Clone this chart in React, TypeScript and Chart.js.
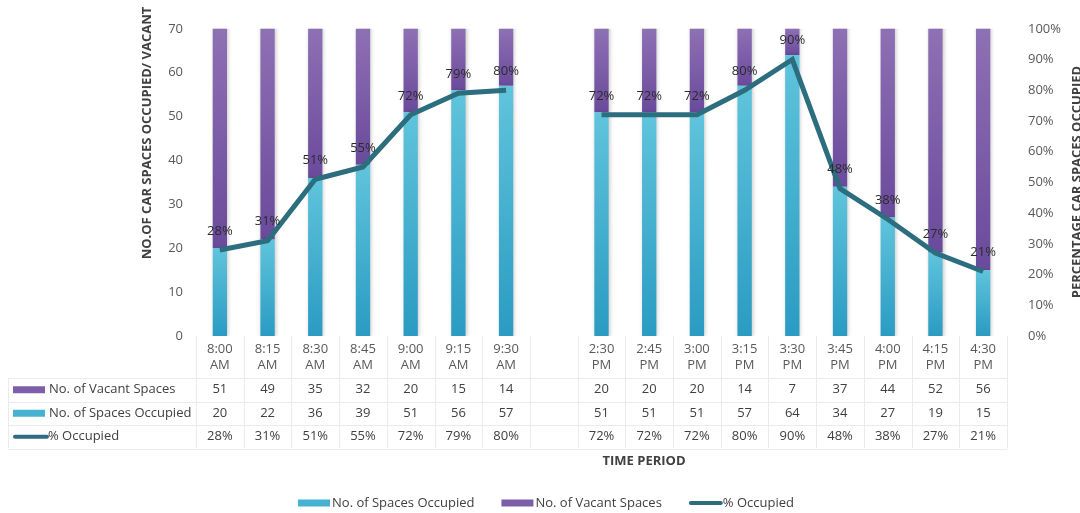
import React, { useEffect, useRef } from "react";
import { Chart, registerables } from "chart.js";

Chart.register(...registerables);

// Survey time slots; the blank slot separates the morning and afternoon sessions.
const timeSlots: string[][] = [
  ["8:00", "AM"], ["8:15", "AM"], ["8:30", "AM"], ["8:45", "AM"],
  ["9:00", "AM"], ["9:15", "AM"], ["9:30", "AM"],
  [""],
  ["2:30", "PM"], ["2:45", "PM"], ["3:00", "PM"], ["3:15", "PM"],
  ["3:30", "PM"], ["3:45", "PM"], ["4:00", "PM"], ["4:15", "PM"], ["4:30", "PM"],
];

const spacesOccupied: (number | null)[] = [20, 22, 36, 39, 51, 56, 57, null, 51, 51, 51, 57, 64, 34, 27, 19, 15];
const vacantSpaces: (number | null)[] = [51, 49, 35, 32, 20, 15, 14, null, 20, 20, 20, 14, 7, 37, 44, 52, 56];
const percentOccupied: (number | null)[] = [28, 31, 51, 55, 72, 79, 80, null, 72, 72, 72, 80, 90, 48, 38, 27, 21];

const countTicks = [0, 10, 20, 30, 40, 50, 60, 70];
const percentTicks = [0, 10, 20, 30, 40, 50, 60, 70, 80, 90, 100];

const FONT = "'Open Sans', 'Noto Sans', sans-serif";
const SIZE = 13;
const TEXT = "#404040";
const AXIS_TEXT = "#595959";
const GRID = "#ebebeb";

const CYAN = { top: "#60c4dc", bottom: "#2a9bc2", flat: "#45b2d2" };
const PURPLE = { top: "#8e70b4", bottom: "#6a4a9b", flat: "#7d5fa9" };
const TEAL = "#2c6d7e";

function barGradient(ctx: any, colors: { top: string; bottom: string; flat: string }, lower: number[], upper: number[]) {
  const chart = ctx.chart;
  const y = chart.scales?.y;
  if (!chart.chartArea || !y || ctx.type !== "data") return colors.flat;
  const i = ctx.dataIndex;
  const top = y.getPixelForValue(Math.min(upper[i], y.max));
  const bottom = y.getPixelForValue(lower[i]);
  if (!isFinite(top) || !isFinite(bottom) || top === bottom) return colors.flat;
  const g = chart.ctx.createLinearGradient(0, top, 0, bottom);
  g.addColorStop(0, colors.top);
  g.addColorStop(1, colors.bottom);
  return g;
}

const occLower = spacesOccupied.map(() => 0);
const occUpper = spacesOccupied.map((v) => v ?? 0);
const vacLower = occUpper;
const vacUpper = spacesOccupied.map((v, i) => (v ?? 0) + (vacantSpaces[i] ?? 0));

// Soft drop shadow under the bar series
const barShadow = {
  id: "barShadow",
  beforeDatasetDraw(chart: any, args: any) {
    if (chart.data.datasets[args.index].type !== "bar") return;
    const c = chart.ctx;
    c.save();
    c.shadowColor = "rgba(0,0,0,0.22)";
    c.shadowBlur = 4;
    c.shadowOffsetX = 1;
    c.shadowOffsetY = 1;
  },
  afterDatasetDraw(chart: any, args: any) {
    if (chart.data.datasets[args.index].type !== "bar") return;
    chart.ctx.restore();
  },
};

// Percentage labels above the line points
const pointLabels = {
  id: "pointLabels",
  afterDatasetsDraw(chart: any) {
    const idx = chart.data.datasets.findIndex((d: any) => d.type === "line");
    const meta = chart.getDatasetMeta(idx);
    const c = chart.ctx;
    c.save();
    c.font = `${SIZE}px ${FONT}`;
    c.fillStyle = "#2b2b2b";
    c.textAlign = "center";
    c.textBaseline = "middle";
    meta.data.forEach((pt: any, i: number) => {
      const v = percentOccupied[i];
      if (v == null) return;
      c.fillText(`${v}%`, pt.x, pt.y - 19);
    });
    c.restore();
  },
};

// Data table under the axis, axis titles and the legend
const tableAndLegend = {
  id: "tableAndLegend",
  afterDraw(chart: any) {
    const c = chart.ctx;
    const area = chart.chartArea;
    const x = chart.scales.x;
    const n = timeSlots.length;
    const half = (x.getPixelForValue(1) - x.getPixelForValue(0)) / 2;
    const headerBottom = area.bottom + 42;
    const rowH = 23.5;
    const tableBottom = headerBottom + rowH * 3;
    const tableLeft = 8;
    const lastEdge = x.getPixelForValue(n - 1) + half;

    c.save();
    c.strokeStyle = GRID;
    c.lineWidth = 1;
    for (let i = 0; i <= n; i++) {
      const ex = Math.round(x.getPixelForValue(i) - half) + 0.5;
      c.beginPath();
      c.moveTo(ex, area.bottom);
      c.lineTo(ex, tableBottom);
      c.stroke();
    }
    for (let r = 0; r <= 3; r++) {
      const ry = Math.round(headerBottom + r * rowH) + 0.5;
      c.beginPath();
      c.moveTo(tableLeft, ry);
      c.lineTo(lastEdge, ry);
      c.stroke();
    }
    c.beginPath();
    c.moveTo(tableLeft + 0.5, headerBottom);
    c.lineTo(tableLeft + 0.5, tableBottom);
    c.stroke();

    const rows = [
      { label: "No. of Vacant Spaces", values: vacantSpaces, fmt: (v: number) => `${v}`, kind: "box", color: PURPLE.flat },
      { label: "No. of Spaces Occupied", values: spacesOccupied, fmt: (v: number) => `${v}`, kind: "box", color: CYAN.flat },
      { label: "% Occupied", values: percentOccupied, fmt: (v: number) => `${v}%`, kind: "line", color: TEAL },
    ];
    c.font = `${SIZE}px ${FONT}`;
    c.textBaseline = "middle";
    rows.forEach((row, r) => {
      const cy = headerBottom + rowH * r + rowH / 2;
      if (row.kind === "box") {
        c.fillStyle = row.color;
        c.fillRect(13, cy - 3.5, 32, 7);
      } else {
        c.strokeStyle = row.color;
        c.lineWidth = 4;
        c.lineCap = "round";
        c.beginPath();
        c.moveTo(15, cy);
        c.lineTo(47, cy);
        c.stroke();
      }
      c.fillStyle = TEXT;
      c.textAlign = "left";
      c.fillText(row.label, row.kind === "box" ? 49 : 48, cy);
      c.textAlign = "center";
      row.values.forEach((v, i) => {
        if (v == null) return;
        c.fillText(row.fmt(v), x.getPixelForValue(i), cy);
      });
    });

    // Axis titles
    c.font = `bold ${SIZE}px ${FONT}`;
    c.fillStyle = TEXT;
    c.textAlign = "center";
    c.textBaseline = "middle";
    c.fillText("TIME PERIOD", 644, tableBottom + 13);

    c.save();
    c.translate(147, 133);
    c.rotate(-Math.PI / 2);
    c.fillText("NO.OF CAR SPACES OCCUPIED/ VACANT", 0, 0);
    c.restore();

    c.save();
    c.translate(1077, 182);
    c.rotate(-Math.PI / 2);
    c.fillText("PERCENTAGE CAR SPACES OCCUPIED", 0, 0);
    c.restore();

    // Legend
    const items = [
      { label: "No. of Spaces Occupied", kind: "box", color: CYAN.flat },
      { label: "No. of Vacant Spaces", kind: "box", color: PURPLE.flat },
      { label: "% Occupied", kind: "line", color: TEAL },
    ];
    c.font = `${SIZE}px ${FONT}`;
    const swatchW = 32;
    const gapAfterSwatch = 2;
    const itemGap = 27;
    const widths = items.map((it) => swatchW + gapAfterSwatch + c.measureText(it.label).width);
    const total = widths.reduce((a, b) => a + b, 0) + itemGap * (items.length - 1);
    let lx = 546 - total / 2;
    const ly = 503;
    items.forEach((it, k) => {
      if (it.kind === "box") {
        c.fillStyle = it.color;
        c.fillRect(lx, ly - 3.5, swatchW, 7);
      } else {
        c.strokeStyle = it.color;
        c.lineWidth = 4;
        c.lineCap = "round";
        c.beginPath();
        c.moveTo(lx + 2, ly);
        c.lineTo(lx + swatchW, ly);
        c.stroke();
      }
      c.fillStyle = TEXT;
      c.textAlign = "left";
      c.textBaseline = "middle";
      c.fillText(it.label, lx + swatchW + gapAfterSwatch, ly);
      lx += widths[k] + itemGap;
    });
    c.restore();
  },
};

export default function App() {
  const canvasRef = useRef<HTMLCanvasElement | null>(null);

  useEffect(() => {
    document.body.style.margin = "0";
    const canvas = canvasRef.current;
    if (!canvas) return;

    const chart = new Chart(canvas, {
      type: "bar",
      data: {
        labels: timeSlots,
        datasets: [
          {
            type: "bar",
            label: "No. of Spaces Occupied",
            data: spacesOccupied,
            backgroundColor: (ctx: any) => barGradient(ctx, CYAN, occLower, occUpper),
            borderWidth: 0,
            barPercentage: 0.3,
            categoryPercentage: 1,
            yAxisID: "y",
            order: 1,
          },
          {
            type: "bar",
            label: "No. of Vacant Spaces",
            data: vacantSpaces,
            backgroundColor: (ctx: any) => barGradient(ctx, PURPLE, vacLower, vacUpper),
            borderWidth: 0,
            barPercentage: 0.3,
            categoryPercentage: 1,
            yAxisID: "y",
            order: 1,
          },
          {
            type: "line",
            label: "% Occupied",
            data: percentOccupied,
            borderColor: TEAL,
            backgroundColor: TEAL,
            borderWidth: 5,
            pointRadius: 0,
            tension: 0,
            spanGaps: false,
            yAxisID: "y1",
            order: 0,
          },
        ],
      } as any,
      plugins: [barShadow, pointLabels, tableAndLegend],
      options: {
        animation: false,
        responsive: false,
        maintainAspectRatio: false,
        layout: { padding: { top: 28, left: 0, right: 0, bottom: 0 } },
        plugins: {
          legend: { display: false },
          tooltip: { enabled: false },
          title: { display: false },
        },
        scales: {
          x: {
            stacked: true,
            grid: { display: false, drawTicks: false },
            border: { display: false },
            ticks: {
              autoSkip: false,
              maxRotation: 0,
              minRotation: 0,
              padding: 5,
              color: AXIS_TEXT,
              font: { family: FONT, size: SIZE, lineHeight: 1.25 },
            },
            afterFit: (s: any) => {
              s.height = 177;
            },
          },
          y: {
            stacked: true,
            position: "left",
            min: 0,
            max: 70,
            afterBuildTicks: (s: any) => {
              s.ticks = countTicks.map((v) => ({ value: v }));
            },
            grid: { display: false, drawTicks: false },
            border: { display: false },
            ticks: {
              padding: 13,
              color: AXIS_TEXT,
              font: { family: FONT, size: SIZE },
            },
            afterFit: (s: any) => {
              s.width = 196;
            },
          },
          y1: {
            position: "right",
            min: 0,
            max: 100,
            afterBuildTicks: (s: any) => {
              s.ticks = percentTicks.map((v) => ({ value: v }));
            },
            grid: { display: false, drawTicks: false },
            border: { display: false },
            ticks: {
              padding: 21,
              color: AXIS_TEXT,
              font: { family: FONT, size: SIZE },
              callback: (v: any) => `${v}%`,
            },
            afterFit: (s: any) => {
              s.width = 73;
            },
          },
        },
      } as any,
    });

    return () => chart.destroy();
  }, []);

  return (
    <div style={{ width: 1080, height: 513, background: "#ffffff" }}>
      <canvas ref={canvasRef} width={1080} height={513} style={{ display: "block" }} />
    </div>
  );
}
